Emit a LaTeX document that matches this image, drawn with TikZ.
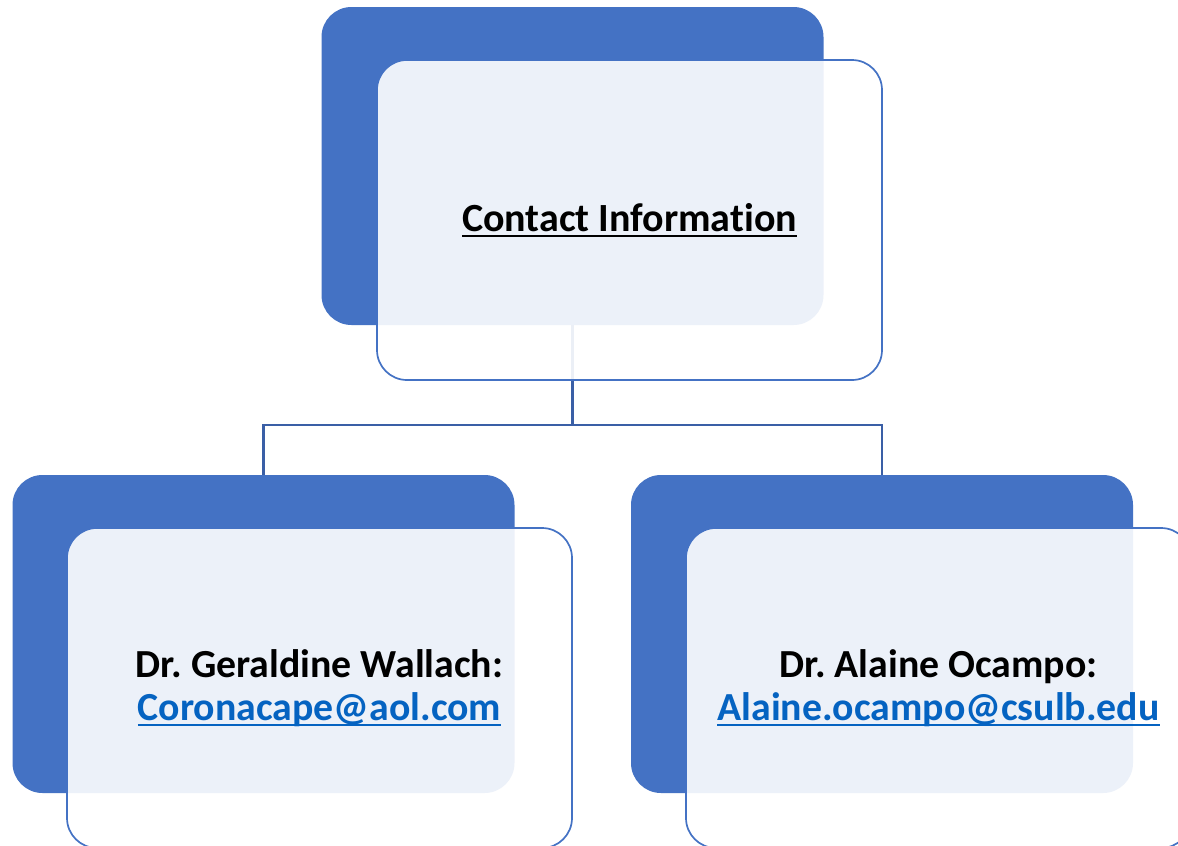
\documentclass[tikz,border=0pt]{standalone}
\usepackage{fontspec}
\setmainfont[Ligatures=NoCommon]{Carlito}
\definecolor{accblue}{HTML}{4472C4}
\definecolor{linkblue}{HTML}{0563C1}
\definecolor{connblue}{HTML}{3A5FA6}
\newcommand\ulfix[1]{\mbox{\setbox0\hbox{#1}\rlap{\rule[-0.14em]{\wd0}{0.055em}}\box0}}
\begin{document}
\frenchspacing
\begin{tikzpicture}[x=1pt,y=-1pt,
  backbox/.style={fill=accblue, rounded corners=30pt, minimum width=502pt, minimum height=318pt, inner sep=0pt},
  frontbox/.style={draw=accblue, line width=1.7pt, fill=white, fill opacity=0.9, text opacity=1, rounded corners=30pt, minimum width=505pt, minimum height=320pt, inner sep=0pt, align=center},
  conn/.style={draw=connblue, line width=2.2pt}]
\useasboundingbox (0,0) rectangle (1178,846);
\clip (0,0) rectangle (1178,846);
\fill[white] (0,0) rectangle (1178,846);
% back boxes
\node[backbox] (topblue) at (572.5,166) {};
\node[backbox] (leftblue) at (263.5,634) {};
\node[backbox] (rightblue) at (882,634) {};
% connectors
\coordinate (j) at (572.5,425);
\draw[conn] (topblue.south) -- (j);
\draw[conn] (leftblue.north) |- (j) -| (rightblue.north);
% front boxes
\node[frontbox, font=\bfseries\fontsize{40}{48}\selectfont] (topfront) at (629.5,220) {\ulfix{Contact Information}};
\node[frontbox, font=\bfseries\fontsize{39.8}{43}\selectfont] (leftfront) at (319.5,688) {Dr. Geraldine Wallach:\\\textcolor{linkblue}{\ulfix{Coronacape@aol.com}}};
\node[frontbox, font=\bfseries\fontsize{39.8}{43}\selectfont] (rightfront) at (938.5,688) {Dr. Alaine Ocampo:\\\textcolor{linkblue}{\ulfix{Alaine.ocampo@csulb.edu}}};
\end{tikzpicture}
\end{document}
